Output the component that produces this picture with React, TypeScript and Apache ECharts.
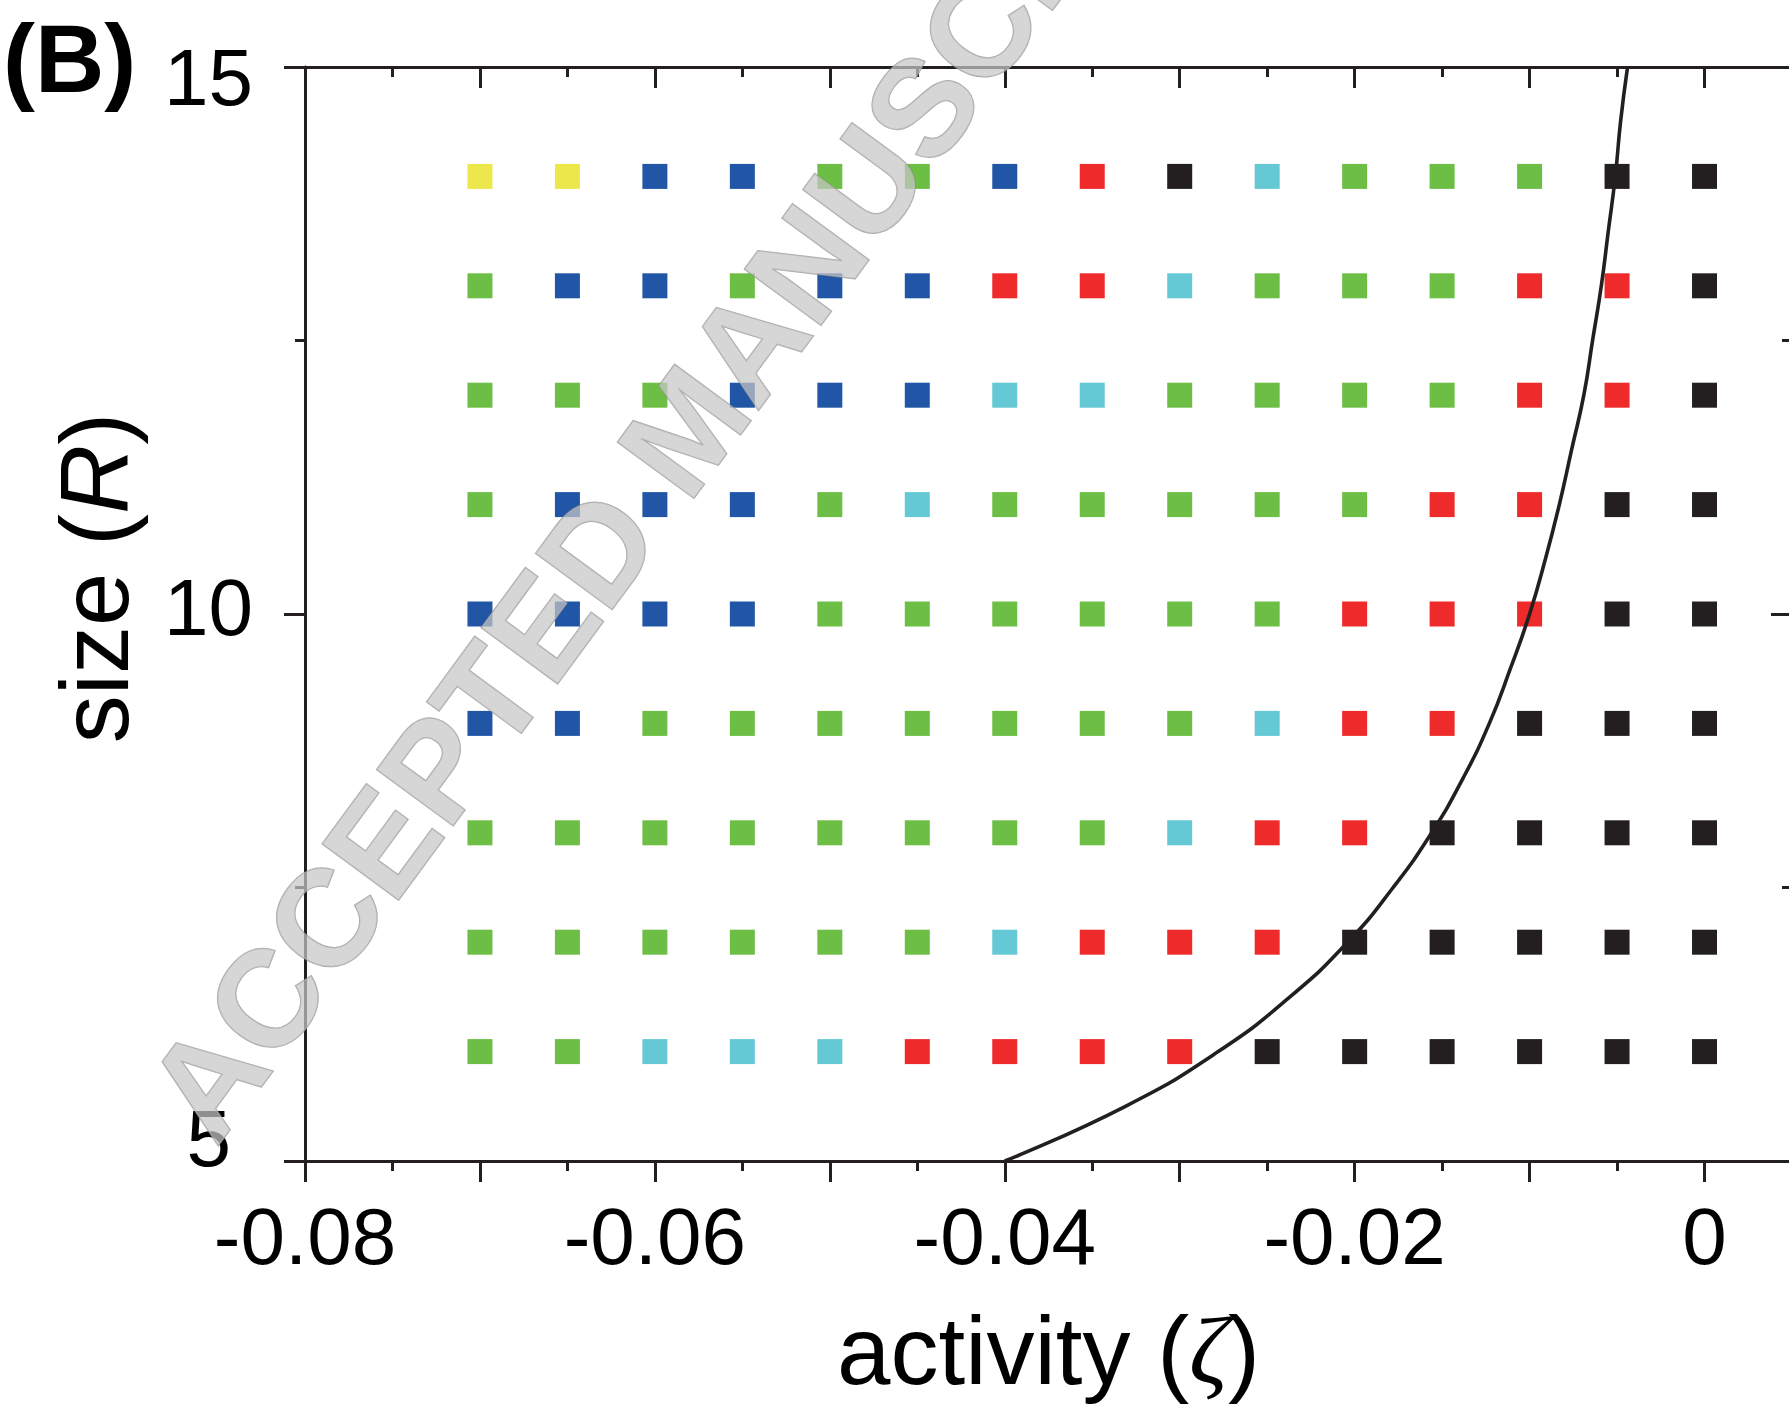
import React, { useEffect, useRef } from 'react';
import * as echarts from 'echarts';

// ---- data ----
const zetaColumns = [-0.07, -0.065, -0.06, -0.055, -0.05, -0.045, -0.04, -0.035, -0.03, -0.025, -0.02, -0.015, -0.01, -0.005, 0];
const sizeRows = [14, 13, 12, 11, 10, 9, 8, 7, 6];
// Y yellow, B blue, G green, C cyan, R red, K black
const phaseRows = [
  'YYBBGGBRKCGGGKK',
  'GBBGBBRRCGGGRRK',
  'GGGBBBCCGGGGRRK',
  'GBBBGCGGGGGRRKK',
  'BBBBGGGGGGRRRKK',
  'BBGGGGGGGCRRKKK',
  'GGGGGGGGCRRKKKK',
  'GGGGGGCRRRKKKKK',
  'GGCCCRRRRKKKKKK',
];
const phaseCodes = ['Y', 'B', 'G', 'C', 'R', 'K'];
const phaseColors: Record<string, string> = {
  Y: '#ECE84C',
  B: '#2156A6',
  G: '#6DBE45',
  C: '#64C9D4',
  R: '#EF2A2A',
  K: '#231F20',
};
const curveSize = [5, 5.5, 6, 6.5, 7, 7.5, 8, 8.5, 9, 9.5, 10, 10.5, 11, 11.5, 12, 12.5, 13, 13.5, 14, 14.5, 15];
const curveZeta = [-0.04, -0.0331, -0.0278, -0.0237, -0.0204, -0.0178, -0.0156, -0.0138, -0.0123, -0.0111, -0.01, -0.0091, -0.0083, -0.0076, -0.0069, -0.0064, -0.0059, -0.0055, -0.0051, -0.0048, -0.0044];
const xTickLabels = ['-0.08', '-0.06', '-0.04', '-0.02', '0'];
const yTickLabels = ['5', '10', '15'];

const FONT = 'Liberation Sans, Arial, Helvetica, sans-serif';
const INK = '#231F20';

export default function App() {
  const ref = useRef<HTMLDivElement>(null);
  useEffect(() => {
    const chart = echarts.init(ref.current!, null, { renderer: 'svg' });

    const scatterSeries = phaseCodes.map((code) => {
      const data: number[][] = [];
      phaseRows.forEach((row, i) => {
        row.split('').forEach((c, j) => {
          if (c === code) data.push([zetaColumns[j], sizeRows[i]]);
        });
      });
      return {
        type: 'scatter',
        name: code,
        symbol: 'rect',
        symbolSize: 25,
        itemStyle: { color: phaseColors[code], opacity: 1 },
        data,
        z: 2,
      };
    });

    const lineStyle = { color: INK, width: 3 };
    const xBase = { type: 'value', min: -0.08, max: 0.005, splitLine: { show: false } };
    const yBase = { type: 'value', min: 5, max: 15, splitLine: { show: false } };

    const xFormatter = (v: number) => {
      const s = Math.abs(v) < 1e-9 ? '0' : v.toFixed(2);
      return xTickLabels.includes(s) ? s : '';
    };
    const yFormatter = (v: number) => {
      const s = String(Math.round(v * 10) / 10);
      if (!yTickLabels.includes(s)) return '';
      if (s === '15') return '{a|15}';
      if (s === '10') return '{b|10}';
      return '{c|' + s + '}';
    };

    const option: any = {
      animation: false,
      backgroundColor: '#ffffff',
      grid: { left: 305, right: -3, top: 67, bottom: 244, containLabel: false, outerBoundsMode: 'none' },
      xAxis: [
        {
          ...xBase,
          position: 'bottom',
          interval: 0.01,
          axisLine: { show: true, onZero: false, lineStyle },
          axisTick: { show: true, inside: false, length: 21, lineStyle },
          axisLabel: { formatter: xFormatter, fontSize: 80, fontFamily: FONT, color: '#000', margin: 35 },
          name: '{t|activity (}{z|ζ}{t|)}',
          nameLocation: 'middle',
          nameGap: 141,
          nameMoveOverlap: false,
          nameTextStyle: {
            rich: {
              t: { fontSize: 96, fontFamily: FONT, color: '#000' },
              z: { fontSize: 96, fontFamily: 'Liberation Serif, DejaVu Serif, serif', fontStyle: 'italic', color: '#000' },
            },
          },
        },
        {
          ...xBase,
          position: 'bottom',
          interval: 0.005,
          axisLine: { show: false, onZero: false },
          axisTick: { show: true, inside: false, length: 10, lineStyle },
          axisLabel: { show: false },
        },
        {
          ...xBase,
          position: 'top',
          interval: 0.01,
          axisLine: { show: true, onZero: false, lineStyle },
          axisTick: { show: true, inside: true, length: 21, lineStyle },
          axisLabel: { show: false },
        },
        {
          ...xBase,
          position: 'top',
          interval: 0.005,
          axisLine: { show: false, onZero: false },
          axisTick: { show: true, inside: true, length: 10, lineStyle },
          axisLabel: { show: false },
        },
      ],
      yAxis: [
        {
          ...yBase,
          position: 'left',
          interval: 5,
          axisLine: { show: true, onZero: false, lineStyle },
          axisTick: { show: true, inside: false, length: 21, lineStyle },
          axisLabel: {
            formatter: yFormatter,
            margin: 52,
            rich: {
              a: { fontSize: 80, fontFamily: FONT, color: '#000', padding: [20, 0, 0, 0] },
              b: { fontSize: 80, fontFamily: FONT, color: '#000', padding: [0, 0, 14, 0] },
              c: { fontSize: 80, fontFamily: FONT, color: '#000', padding: [0, 22, 46, 0] },
            },
          },
          name: '{t|size (}{r|R}{t|)}',
          nameLocation: 'middle',
          nameRotate: 90,
          nameGap: 163,
          nameMoveOverlap: false,
          nameTextStyle: {
            padding: [0, 0, 0, 72],
            rich: {
              t: { fontSize: 96, fontFamily: FONT, color: '#000' },
              r: { fontSize: 96, fontFamily: FONT, fontStyle: 'italic', color: '#000' },
            },
          },
        },
        {
          ...yBase,
          position: 'left',
          interval: 2.5,
          axisLine: { show: false, onZero: false },
          axisTick: { show: true, inside: false, length: 10, lineStyle },
          axisLabel: { show: false },
        },
        {
          ...yBase,
          position: 'right',
          interval: 5,
          axisLine: { show: true, onZero: false, lineStyle },
          axisTick: { show: true, inside: true, length: 21, lineStyle },
          axisLabel: { show: false },
        },
        {
          ...yBase,
          position: 'right',
          interval: 2.5,
          axisLine: { show: false, onZero: false },
          axisTick: { show: true, inside: true, length: 10, lineStyle },
          axisLabel: { show: false },
        },
      ],
      series: [
        ...scatterSeries,
        {
          type: 'line',
          name: 'boundary',
          data: curveZeta.map((z, i) => [z, curveSize[i]]),
          smooth: true,
          showSymbol: false,
          symbol: 'none',
          lineStyle: { color: INK, width: 3.6 },
          z: 5,
        },
      ],
      graphic: [
        {
          type: 'text',
          x: 3,
          y: 58,
          z: 50,
          style: {
            text: '(B)',
            fontSize: 96,
            fontWeight: 'bold',
            fontFamily: FONT,
            fill: '#000',
            align: 'left',
            verticalAlign: 'middle',
          },
        },
        {
          type: 'text',
          x: 686,
          y: 428,
          rotation: 0.937,
          z: 100,
          silent: true,
          style: {
            text: 'ACCEPTED MANUSCRIPT',
            fontSize: 138,
            fontWeight: 'bold',
            fontFamily: FONT,
            fill: '#c6c6c6',
            stroke: '#8a8a8a',
            lineWidth: 1.5,
            opacity: 0.72,
            shadowBlur: 4,
            shadowOffsetX: 2,
            shadowOffsetY: 2,
            shadowColor: 'rgba(0,0,0,0.35)',
            align: 'center',
            verticalAlign: 'middle',
          },
        },
      ],
    };

    chart.setOption(option);
    return () => chart.dispose();
  }, []);

  return (
    <div
      ref={ref}
      style={{ position: 'absolute', left: 0, top: 0, width: 1789, height: 1405, background: '#fff' }}
    />
  );
}
